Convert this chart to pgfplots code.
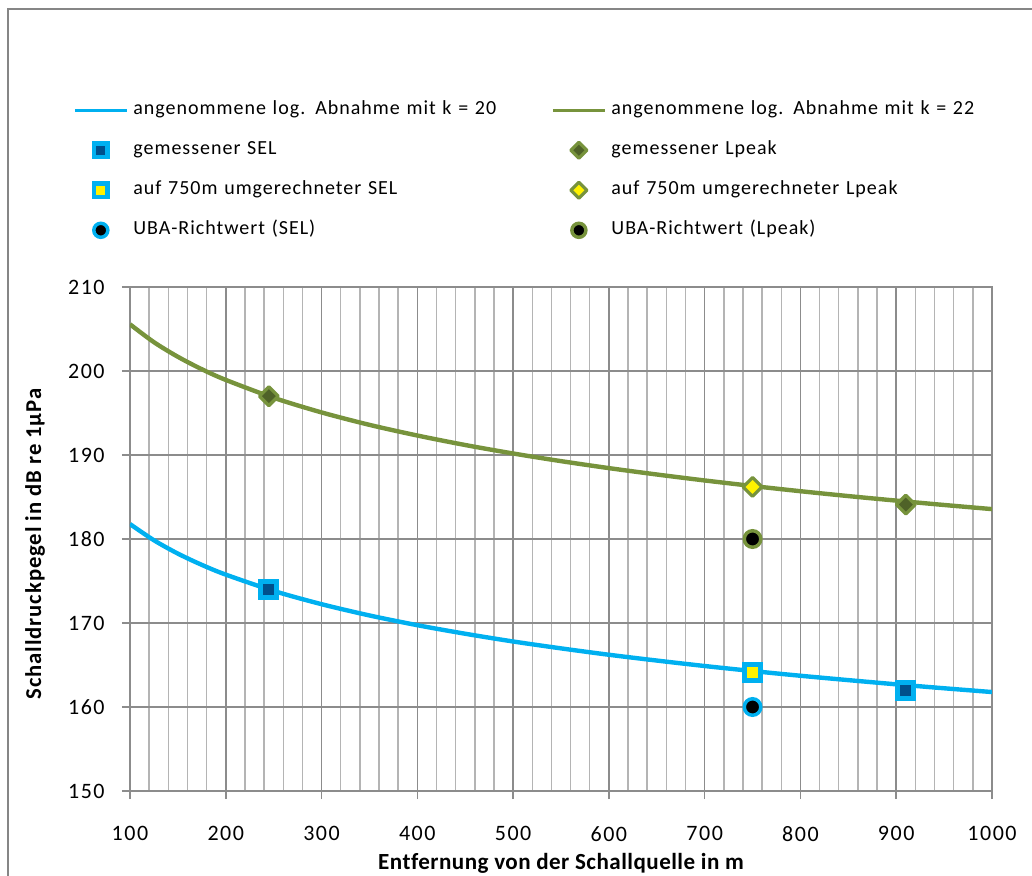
\documentclass[border=0pt]{standalone}
\usepackage{fontspec}
\setmainfont{Carlito}[LetterSpace=5, Ligatures=NoCommon]
\newfontfamily\tickfont{Carlito}[LetterSpace=7]
\newfontfamily\labelfont{Carlito}[LetterSpace=2, Ligatures=NoCommon]
\newfontfamily\ylabelfont{Carlito}[LetterSpace=4, Ligatures=NoCommon]
\usepackage{pgfplots}
\pgfplotsset{compat=1.18}

\definecolor{lineblue}{HTML}{00B0F0}
\definecolor{linegreen}{HTML}{77933C}
\definecolor{darkblue}{HTML}{00508C}
\definecolor{darkgreen}{HTML}{4F6228}
\definecolor{gridmaj}{HTML}{8C8C8C}
\definecolor{gridmin}{HTML}{B4B4B4}
\definecolor{framegray}{HTML}{868686}

\begin{document}
\begin{tikzpicture}
\begin{axis}[
  scale only axis,
  width=646.5pt, height=378pt,
  at={(0pt,0pt)}, anchor=south west,
  xmin=100, xmax=1000, ymin=150, ymax=210,
  xtick={100,200,...,1000}, ytick={150,160,...,210},
  minor x tick num=4,
  xmajorgrids, xminorgrids, ymajorgrids,
  major grid style={gridmaj, line width=1.1pt},
  minor grid style={gridmin, line width=1.1pt},
  axis line style={gridmaj, line width=1.1pt},
  tick style={gridmaj, line width=1.1pt},
  tick align=outside, xtick pos=bottom, ytick pos=left,
  major tick length=6pt, minor tick length=0pt,
  ticklabel style={font=\tickfont\fontsize{16.5}{19}\selectfont},
  xticklabel style={yshift=-17pt},
  yticklabel style={xshift=-9.5pt},
  /pgf/number format/assume math mode=true,
  /pgf/number format/1000 sep={},
  xlabel={Entfernung von der Schallquelle in m},
  ylabel={Schalldruckpegel in dB re 1µPa},
  xlabel style={font=\labelfont\bfseries\fontsize{17.3}{20}\selectfont, at={(axis description cs:0.5,-0.144)}, anchor=center},
  ylabel style={font=\ylabelfont\bfseries\fontsize{17}{20}\selectfont, at={(axis description cs:-0.110,0.49)}, anchor=center, rotate=0},
  legend columns=2,
  legend style={at={(axis description cs:-0.0661,1.371)}, anchor=north west,
    draw=none, fill=none, inner sep=0pt,
    font=\fontsize{15}{18}\selectfont,
    nodes={text width=309.75pt, align=left, text height=11pt, text depth=4pt, inner ysep=0pt, inner xsep=3.75pt},
    row sep=15pt},
  legend image code/.code={\draw[mark repeat=2, mark phase=2, #1, line width=2.3pt, every mark/.append style={scale=0.85}]
    plot coordinates {(0pt,0pt) (19.5pt,0pt) (39pt,0pt)};},
]
% assumed logarithmic decay, k = 20 (SEL)
\addplot[lineblue, line width=3.3pt, smooth] coordinates {
  (100,181.78) (125,179.85) (150,178.26) (175,176.92) (200,175.76)
  (250,173.82) (300,172.24) (350,170.90) (400,169.74) (450,168.72)
  (500,167.80) (550,166.98) (600,166.22) (650,165.53) (700,164.88)
  (750,164.28) (800,163.72) (850,163.20) (900,162.70) (950,162.23)
  (1000,161.78)};
\addlegendentry{angenommene log. Abnahme mit k = 20}
% assumed logarithmic decay, k = 22 (Lpeak)
\addplot[linegreen, line width=3.3pt, smooth] coordinates {
  (100,205.56) (125,203.43) (150,201.69) (175,200.21) (200,198.94)
  (250,196.81) (300,195.07) (350,193.59) (400,192.32) (450,191.19)
  (500,190.18) (550,189.27) (600,188.44) (650,187.68) (700,186.97)
  (750,186.31) (800,185.69) (850,185.11) (900,184.57) (950,184.05)
  (1000,183.56)};
\addlegendentry{angenommene log. Abnahme mit k = 22}
% measured values
\addplot[only marks, mark=square*, mark size=6pt,
  mark options={draw=lineblue, fill=darkblue, line width=3.6pt}] coordinates {(245,174) (910,162)};
\addlegendentry{gemessener SEL}
\addplot[only marks, mark=square*, mark size=5pt,
  mark options={rotate=45, draw=linegreen, fill=darkgreen, line width=2.4pt, line join=round}] coordinates {(245,197) (910,184.1)};
\addlegendentry{gemessener Lpeak}
% converted to 750 m
\addplot[only marks, mark=square*, mark size=6pt,
  mark options={draw=lineblue, fill=yellow, line width=3.6pt}] coordinates {(750,164.1)};
\addlegendentry{auf 750m umgerechneter SEL}
\addplot[only marks, mark=square*, mark size=5pt,
  mark options={rotate=45, draw=linegreen, fill=yellow, line width=2.4pt, line join=round}] coordinates {(750,186.2)};
\addlegendentry{auf 750m umgerechneter Lpeak}
% UBA guideline values
\addplot[only marks, mark=*, mark size=6.2pt,
  mark options={draw=lineblue, fill=black, line width=2.6pt}] coordinates {(750,160)};
\addlegendentry{UBA-Richtwert (SEL)}
\addplot[only marks, mark=*, mark size=6.2pt,
  mark options={draw=linegreen, fill=black, line width=2.6pt}] coordinates {(750,180)};
\addlegendentry{UBA-Richtwert (Lpeak)}
\end{axis}
% chart frame
\draw[framegray, line width=1.5pt] (-91.5pt,-80pt) -- (-91.5pt,586.5pt) -- (700pt,586.5pt);
\pgfresetboundingbox
\path[use as bounding box] (-97.5pt,-63pt) rectangle (676.5pt,593.25pt);
\end{tikzpicture}
\end{document}
